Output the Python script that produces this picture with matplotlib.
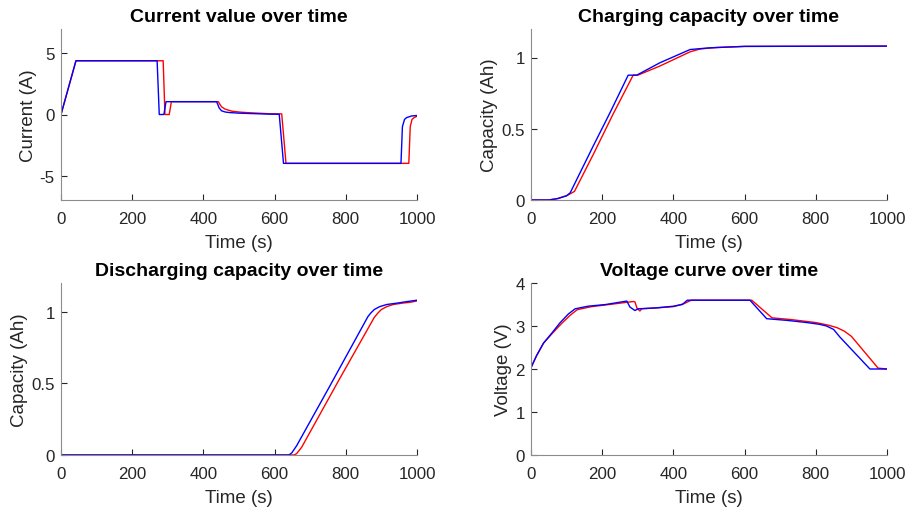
import numpy as np
import matplotlib
matplotlib.use("Agg")
import matplotlib.pyplot as plt

plt.rcParams['font.family'] = ['Liberation Sans', 'DejaVu Sans']

# ---- data (time in s) ----
# current (A)
t_cur_b = [0, 42, 270, 276, 289, 295, 437, 440, 444, 451, 462, 473, 500, 531, 587, 613, 625, 955, 959, 965, 971, 985, 1000]
cur_b = [0, 4.4, 4.4, 0, 0, 1.05, 1.05, 0.85, 0.55, 0.30, 0.20, 0.16, 0.11, 0.08, 0.03, 0.02, -4.0, -4.0, -1.0, -0.4, -0.25, -0.12, -0.08]
t_cur_r = [0, 42, 287, 292, 304, 310, 442, 446, 451, 461, 480, 505, 531, 587, 620, 632, 977, 981, 986, 992, 1000]
cur_r = [0, 4.4, 4.4, 0, 0, 1.05, 1.05, 0.85, 0.63, 0.44, 0.27, 0.19, 0.14, 0.06, 0.05, -4.0, -4.0, -1.0, -0.4, -0.25, -0.15]

# charging capacity (Ah)
t_chg_b = [0, 50, 75, 100, 110, 175, 222, 273, 297, 362, 447, 503, 600, 1000]
chg_b = [0, 0, 0.01, 0.03, 0.05, 0.38, 0.613, 0.876, 0.876, 0.963, 1.056, 1.068, 1.078, 1.08]
t_chg_r = [0, 50, 75, 100, 122, 175, 230, 287, 300, 362, 447, 475, 520, 600, 1000]
chg_r = [0, 0, 0.01, 0.03, 0.06, 0.32, 0.60, 0.876, 0.876, 0.94, 1.04, 1.06, 1.07, 1.078, 1.08]

# discharging capacity (Ah)
t_dis_b = [0, 640, 648, 662, 756, 862, 870, 880, 895, 915, 945, 971, 1000]
dis_b = [0, 0, 0.014, 0.065, 0.485, 0.965, 0.99, 1.015, 1.035, 1.05, 1.06, 1.07, 1.08]
t_dis_r = [0, 655, 662, 676, 780, 880, 890, 900, 915, 933, 960, 980, 1000]
dis_r = [0, 0, 0.01, 0.054, 0.52, 0.96, 0.99, 1.015, 1.035, 1.05, 1.06, 1.065, 1.075]

# voltage (V)
t_vol_b = [0, 15, 35, 60, 81, 105, 124, 160, 210, 269, 278, 292, 301, 350, 400, 425, 439, 615, 662, 720, 775, 810, 830, 850, 868, 952, 1000]
vol_b = [2.03, 2.3, 2.6, 2.85, 3.07, 3.28, 3.40, 3.46, 3.50, 3.58, 3.44, 3.36, 3.40, 3.42, 3.46, 3.50, 3.60, 3.60, 3.17, 3.13, 3.08, 3.04, 3.00, 2.92, 2.74, 2.00, 2.00]
t_vol_r = [0, 15, 35, 60, 85, 110, 130, 170, 220, 288, 292, 298, 306, 311, 350, 400, 430, 450, 620, 677, 730, 800, 835, 860, 880, 900, 975, 1000]
vol_r = [2.03, 2.3, 2.6, 2.83, 3.05, 3.25, 3.38, 3.45, 3.50, 3.57, 3.56, 3.41, 3.35, 3.40, 3.42, 3.45, 3.52, 3.60, 3.60, 3.19, 3.15, 3.08, 3.02, 2.96, 2.88, 2.76, 2.02, 2.00]

panels = [
    ("Current value over time", "Current (A)", t_cur_r, cur_r, t_cur_b, cur_b, (-7, 7), [-5, 0, 5], ["-5", "0", "5"]),
    ("Charging capacity over time", "Capacity (Ah)", t_chg_r, chg_r, t_chg_b, chg_b, (0, 1.2), [0, 0.5, 1], ["0", "0.5", "1"]),
    ("Discharging capacity over time", "Capacity (Ah)", t_dis_r, dis_r, t_dis_b, dis_b, (0, 1.2), [0, 0.5, 1], ["0", "0.5", "1"]),
    ("Voltage curve over time", "Voltage (V)", t_vol_r, vol_r, t_vol_b, vol_b, (0, 4), [0, 1, 2, 3, 4], ["0", "1", "2", "3", "4"]),
]

W, H = 909, 510
fig = plt.figure(figsize=(W / 100, H / 100), dpi=100)
# axes boxes in pixels: left, top, right, bottom
boxes = [(61, 30, 417, 201), (531, 30, 887, 201), (61, 284, 417, 456), (531, 284, 887, 456)]

for (title, ylab, tr, yr, tb, yb, ylim, yt, ytl), (l, t, r, b) in zip(panels, boxes):
    ax = fig.add_axes([l / W, 1 - b / H, (r - l) / W, (b - t) / H])
    ax.plot(tr, yr, color='red', lw=1.0)
    ax.plot(tb, yb, color='blue', lw=1.0)
    ax.set_xlim(0, 1000)
    ax.set_ylim(*ylim)
    ax.set_xticks([0, 200, 400, 600, 800, 1000])
    ax.set_yticks(yt)
    ax.set_yticklabels(ytl)
    ax.set_title(title, fontsize=14, fontweight='bold', pad=6)
    ax.set_xlabel("Time (s)", fontsize=13.5, color='#262626', labelpad=6)
    ax.set_ylabel(ylab, fontsize=13.5, color='#262626', labelpad=2)
    for s in ['top', 'right']:
        ax.spines[s].set_visible(False)
    for s in ['left', 'bottom']:
        ax.spines[s].set_color('#8c8c8c')
        ax.spines[s].set_linewidth(0.8)
    ax.tick_params(direction='in', length=4, width=0.8, color='#262626',
                   labelsize=12.2, labelcolor='#262626')
    ax.tick_params(axis='x', pad=8)
    ax.tick_params(axis='y', pad=4.5)

fig.savefig("out.png", dpi=100)
